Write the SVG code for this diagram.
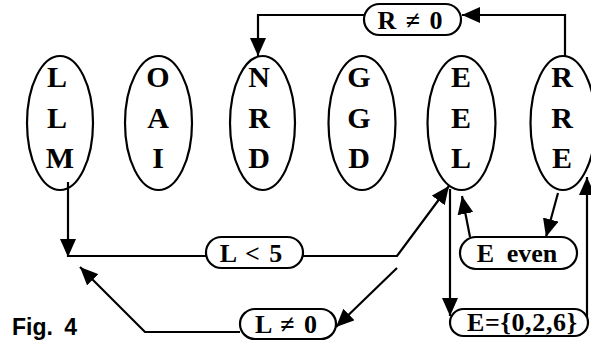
<svg xmlns="http://www.w3.org/2000/svg" width="591" height="346" viewBox="0 0 591 346">
  <style>
    .bg { fill: #ffffff; }
    .node ellipse { fill: none; stroke: #000; stroke-width: 2.2; }
    .letter { font-weight: bold; font-size: 30px; text-anchor: middle; fill: #000; }
    .box rect { fill: #fff; stroke: #000; stroke-width: 2.2; }
    .lbl { font-weight: bold; font-size: 26px; text-anchor: middle; fill: #000; }
    .conn path { fill: none; stroke: #000; stroke-width: 2.2; }
    .caption { font-weight: bold; font-size: 23px; fill: #000; }
  </style>
  <defs>
    <marker id="arrow" markerUnits="userSpaceOnUse" markerWidth="20" markerHeight="16" refX="18" refY="8" orient="auto">
      <path d="M0,0 L18,8 L0,16 Z" fill="#000"/>
    </marker>
  </defs>

  <rect class="bg" x="0" y="0" width="591" height="346"/>

  <!-- connectors -->
  <g id="connectors" class="conn">
    <path d="M565,57 V15 H462" marker-end="url(#arrow)"/>
    <path d="M364,15 H258 V56" marker-end="url(#arrow)"/>
    <path d="M68,182 V257" marker-end="url(#arrow)"/>
    <path d="M68,256 H206"/>
    <path d="M303,256 H397 L449,186" marker-end="url(#arrow)"/>
    <path d="M397,268 L336,327" marker-end="url(#arrow)"/>
    <path d="M240,332 H145 L80,267" marker-end="url(#arrow)"/>
    <path d="M450,189 V316" marker-end="url(#arrow)"/>
    <path d="M558,193 L546,237" marker-end="url(#arrow)"/>
    <path d="M470,237 L462,196" marker-end="url(#arrow)"/>
    <path d="M587,320 V177" marker-end="url(#arrow)"/>
  </g>

  <g font-family="'Liberation Serif', 'DejaVu Serif', serif">
  <!-- letter columns -->
  <g id="node-LLM" class="node">
    <ellipse cx="60" cy="123" rx="33" ry="67"/>
    <text class="letter" x="57" y="87">L</text>
    <text class="letter" x="57" y="128">L</text>
    <text class="letter" x="60" y="168">M</text>
  </g>
  <g id="node-OAI" class="node">
    <ellipse cx="158.5" cy="123" rx="33.5" ry="67"/>
    <text class="letter" x="158" y="87">O</text>
    <text class="letter" x="158" y="128">A</text>
    <text class="letter" x="158" y="168">I</text>
  </g>
  <g id="node-NRD" class="node">
    <ellipse cx="262.5" cy="123" rx="32.5" ry="67"/>
    <text class="letter" x="259" y="87">N</text>
    <text class="letter" x="259" y="128">R</text>
    <text class="letter" x="259" y="168">D</text>
  </g>
  <g id="node-GGD" class="node">
    <ellipse cx="362" cy="123" rx="33.5" ry="67"/>
    <text class="letter" x="359" y="87">G</text>
    <text class="letter" x="359" y="128">G</text>
    <text class="letter" x="359" y="168">D</text>
  </g>
  <g id="node-EEL" class="node">
    <ellipse cx="461.5" cy="123" rx="34" ry="67"/>
    <text class="letter" x="461" y="87">E</text>
    <text class="letter" x="461" y="128">E</text>
    <text class="letter" x="461" y="168">L</text>
  </g>
  <g id="node-RRE" class="node">
    <ellipse cx="563" cy="123" rx="32.5" ry="67"/>
    <text class="letter" x="562" y="87">R</text>
    <text class="letter" x="562" y="128">R</text>
    <text class="letter" x="562" y="168">E</text>
  </g>

  <!-- condition labels -->
  <g id="label-R-ne-0" class="box">
    <rect x="364" y="4" width="97" height="31" rx="15.5"/>
    <text class="lbl" x="410" y="29" word-spacing="3">R ≠ 0</text>
  </g>
  <g id="label-L-lt-5" class="box">
    <rect x="206" y="237" width="97" height="31" rx="15.5"/>
    <text class="lbl" x="251" y="262" word-spacing="3">L &lt; 5</text>
  </g>
  <g id="label-L-ne-0" class="box">
    <rect x="240" y="309" width="96" height="30" rx="15"/>
    <text class="lbl" x="286" y="333" word-spacing="3">L ≠ 0</text>
  </g>
  <g id="label-E-even" class="box">
    <rect x="460" y="237" width="117" height="32" rx="16"/>
    <text class="lbl" x="517" y="262" word-spacing="6">E even</text>
  </g>
  <g id="label-E-set" class="box">
    <rect x="450" y="309" width="138" height="27" rx="13.5"/>
    <text class="lbl" x="522" y="331" font-size="22" textLength="110" lengthAdjust="spacing">E={0,2,6}</text>
  </g>
  </g>

  <text class="caption" x="12" y="335" font-family="'Liberation Sans', Arial, sans-serif" word-spacing="5">Fig. 4</text>
</svg>
